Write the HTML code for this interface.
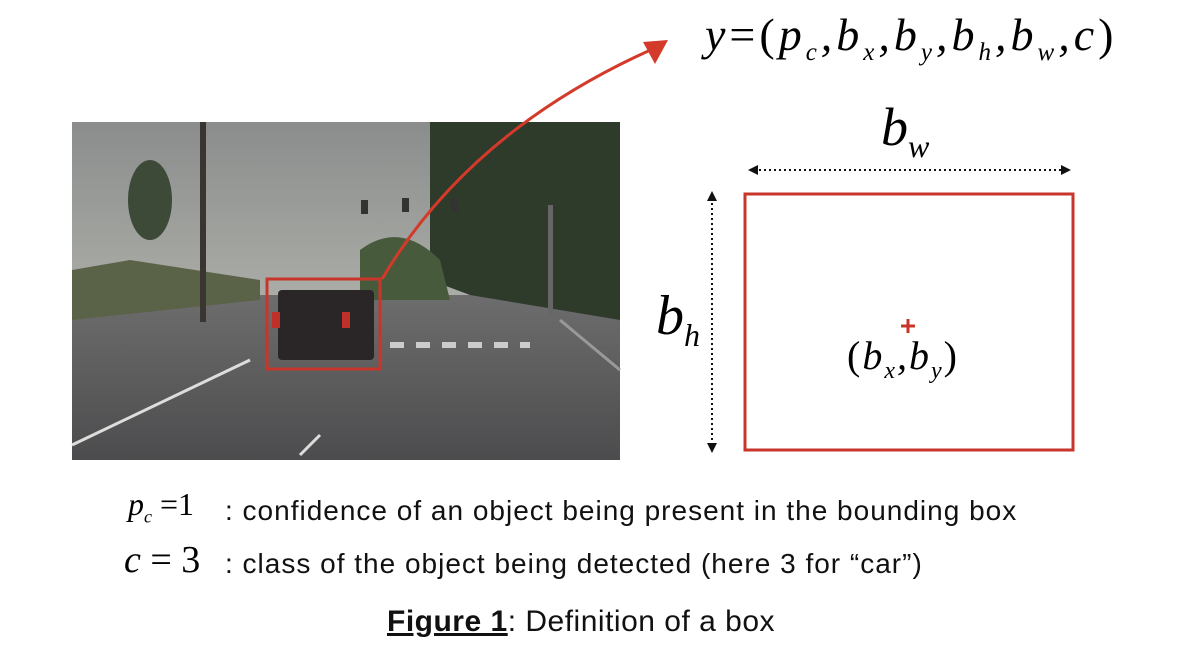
<!DOCTYPE html>
<html><head><style>
body{margin:0;width:1190px;height:662px;background:#fff;overflow:hidden;position:relative;font-family:"Liberation Sans",sans-serif}
.m{font-family:"Liberation Serif",serif;font-style:italic;position:absolute;color:#000;white-space:nowrap}
.t{position:absolute;font-size:28px;letter-spacing:1px;color:#111;white-space:nowrap}
</style></head><body>
<svg width="1190" height="662" style="position:absolute;left:0;top:0">
<defs>
<linearGradient id="sky" x1="0" y1="0" x2="0" y2="1"><stop offset="0" stop-color="#8a8d8c"/><stop offset="1" stop-color="#c9c9c0"/></linearGradient>
<linearGradient id="road" x1="0" y1="0" x2="0" y2="1"><stop offset="0" stop-color="#6d6d6d"/><stop offset="1" stop-color="#4c4c4e"/></linearGradient>
</defs>
<rect x="72" y="122" width="548" height="338" fill="url(#sky)"/>
<rect x="72" y="295" width="548" height="165" fill="url(#road)"/>
<path d="M430 122 L620 122 L620 320 L560 310 L470 295 L430 280 Z" fill="#2e3a2a"/>
<path d="M360 250 Q400 220 440 260 L450 300 L360 300Z" fill="#485a3c"/>
<path d="M72 270 L130 260 L260 280 L260 300 L72 320Z" fill="#5a6248"/>
<ellipse cx="150" cy="200" rx="22" ry="40" fill="#3e4a38"/>
<rect x="200" y="122" width="6" height="200" fill="#3a3530"/>
<path d="M72 445 L250 360" stroke="#ddd" stroke-width="3"/>
<path d="M300 455 L320 435" stroke="#ddd" stroke-width="3"/>
<path d="M390 345 L530 345" stroke="#ccc" stroke-width="6" stroke-dasharray="14 12"/>
<path d="M560 320 L620 370" stroke="#999" stroke-width="3"/>
<rect x="548" y="205" width="5" height="110" fill="#666"/>
<rect x="278" y="290" width="96" height="70" rx="4" fill="#2a2526"/>
<rect x="272" y="312" width="8" height="16" fill="#c0302a"/><rect x="342" y="312" width="8" height="16" fill="#c0302a"/>
<rect x="361" y="200" width="7" height="14" fill="#333"/><rect x="402" y="198" width="7" height="14" fill="#333"/><rect x="451" y="198" width="7" height="14" fill="#333"/>
<rect x="267" y="279" width="113" height="90" fill="none" stroke="#c8352a" stroke-width="3"/>
<path d="M382 279 Q470 130 655 48" fill="none" stroke="#d33a2a" stroke-width="3"/>
<path d="M643 42 L668 40 L655 64 Z" fill="#d33a2a"/>
<rect x="745" y="194" width="328" height="256" fill="none" stroke="#c8352a" stroke-width="3"/>
<line x1="754" y1="170" x2="1064" y2="170" stroke="#111" stroke-width="2" stroke-dasharray="2 3"/>
<path d="M748 170 L758 165 L758 175Z M1071 170 L1061 165 L1061 175Z" fill="#111"/>
<line x1="712" y1="198" x2="712" y2="446" stroke="#111" stroke-width="2" stroke-dasharray="2 3"/>
<path d="M712 191 L707 201 L717 201Z M712 453 L707 443 L717 443Z" fill="#111"/>
<path d="M901 326 L915 326 M908 319 L908 333" stroke="#c8352a" stroke-width="3"/>
</svg>
<div class="m" style="left:705px;top:8px;font-size:46px;letter-spacing:4px">y<span style="font-style:normal">=(</span>p<sub style="font-size:25px">c</sub>,b<sub style="font-size:25px">x</sub>,b<sub style="font-size:25px">y</sub>,b<sub style="font-size:25px">h</sub>,b<sub style="font-size:25px">w</sub>,c<span style="font-style:normal">)</span></div>
<div class="m" style="left:881px;top:96px;font-size:54px">b<sub style="font-size:32px">w</sub></div>
<div class="m" style="left:656px;top:284px;font-size:56px">b<sub style="font-size:32px">h</sub></div>
<div class="m" style="left:847px;top:332px;font-size:40px;letter-spacing:2px"><span style="font-style:normal">(</span>b<sub style="font-size:24px">x</sub>,b<sub style="font-size:24px">y</sub><span style="font-style:normal">)</span></div>
<div class="m" style="left:128px;top:486px;font-size:32px">p<sub style="font-size:18px">c</sub> <span style="font-style:normal">=1</span></div>
<div class="m" style="left:124px;top:538px;font-size:38px">c <span style="font-style:normal">= 3</span></div>
<div class="t" style="left:225px;top:495px">: confidence of an object being present in the bounding box</div>
<div class="t" style="left:225px;top:548px">: class of the object being detected (here 3 for “car”)</div>
<div class="t" style="left:387px;top:605px;font-size:30px;letter-spacing:0.5px"><b><u>Figure 1</u></b>: Definition of a box</div>
</body></html>
